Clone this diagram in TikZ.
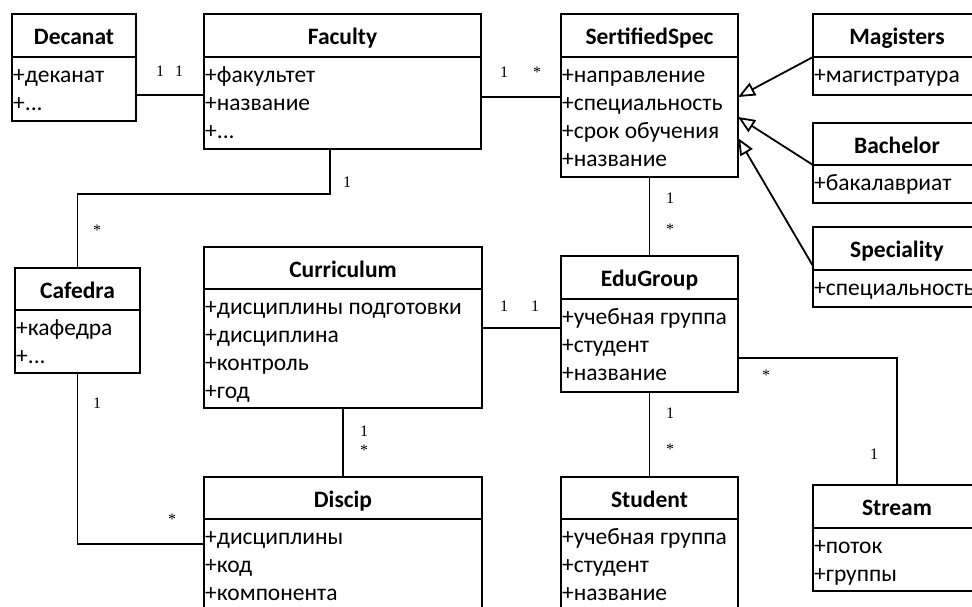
\documentclass[tikz,border=0pt]{standalone}
\usepackage{fontspec}
\setmainfont{Carlito}
\newfontfamily\multfont{Liberation Serif}
\usetikzlibrary{arrows.meta,fit}
\newcommand{\myellip}{...}
\tikzset{
  line/.style={line width=1.8pt, black},
  cls/.style={draw, line width=1.8pt, inner sep=0pt, outer sep=0pt, fill=white},
  ttl/.style={font=\fontsize{23.5}{26}\selectfont\bfseries, inner sep=0pt, anchor=base},
  att/.style={font=\fontsize{23.5}{26}\selectfont, inner sep=0pt, anchor=base west},
  mult/.style={font=\multfont\fontsize{16}{17}\selectfont, inner sep=0pt, anchor=base},
  gen/.style={line width=1.8pt, -{Triangle[open, length=17pt, width=14pt, line width=1.8pt]}, fill=white},
}
% #1 name, #2 x1, #3 y1, #4 x2, #5 y2, #6 separator y, #7 title, #8 attributes
\newcommand{\umlclass}[8]{%
  \node[cls, fit={(#2,#3) (#4,#5)}] (#1) {};
  \draw[line] (#2,#6) -- (#4,#6);
  \node[ttl] (#1-t) at ({(#2+#4)/2}, {#3+30}) {#7};
  \foreach \a [count=\i] in {#8} {
    \node[att] (#1-a\i) at ({#2+1}, {#6+25+28*(\i-1)}) {\a};
  }%
}
\begin{document}
\begin{tikzpicture}[x=1pt, y=-1pt]
\useasboundingbox (0,0) rectangle (972,606);
\clip (0,0) rectangle (972,606);
\fill[white] (0,0) rectangle (972,606);

% classes
\umlclass{dec}{12}{14}{136}{121}{57}{Decanat}{+деканат,+\myellip}
\umlclass{fac}{204}{14}{481}{149}{57}{Faculty}{+факультет,+название,+\myellip}
\umlclass{ss}{561}{14}{738}{177}{57}{SertifiedSpec}{+направление,+специальность,+срок обучения,+название}
\umlclass{mag}{813}{14}{981}{95}{57}{Magisters}{+магистратура}
\umlclass{bac}{813}{123}{981}{203}{165}{Bachelor}{+бакалавриат}
\umlclass{spe}{813}{227}{981}{307}{270}{Speciality}{+специальность}
\umlclass{caf}{15}{268}{140}{373}{310}{Cafedra}{+кафедра,+\myellip}
\umlclass{cur}{204}{247}{482}{408}{289}{Curriculum}{+дисциплины подготовки,+дисциплина,+контроль,+год}
\umlclass{edu}{561}{256}{738}{392}{299}{EduGroup}{+учебная группа,+студент,+название}
\umlclass{disc}{204}{477}{482}{640}{519}{Discip}{+дисциплины,+код,+компонента}
\umlclass{stu}{561}{477}{738}{640}{519}{Student}{+учебная группа,+студент,+название}
\umlclass{str}{813}{485}{981}{591}{528}{Stream}{+поток,+группы}

% associations
\draw[line] (dec.east |- 0,95) -- (fac.west |- 0,95);
\draw[line] (fac.east |- 0,97) -- (ss.west |- 0,97);
\draw[line] (330,0 |- fac.south) |- (caf.north |- 0,194) -- (caf.north);
\draw[line] (caf.south) |- (disc.west |- 0,544);
\draw[line] (cur.south) -- (disc.north);
\draw[line] (cur.east |- 0,328) -- (edu.west |- 0,328);
\draw[line] (ss.south) -- (edu.north);
\draw[line] (edu.south) -- (stu.north);
\draw[line] (edu.east |- 0,358) -| (str.north);

% generalizations
\draw[gen] (mag.west |- 0,57) -- (ss.east |- 0,97);
\draw[gen] (bac.west |- 0,165) -- (ss.east |- 0,117);
\draw[gen] (spe.west |- 0,266) -- (ss.east |- 0,138);

% multiplicities
\node[mult] (m1) at (160,76) {1};
\node[mult] (m2) at (179,76) {1};
\node[mult] (m3) at (504,77) {1};
\node[mult] (m4) at (537,77) {*};
\node[mult] (m5) at (347,187) {1};
\node[mult] (m6) at (97,235) {*};
\node[mult] (m7) at (97,408) {1};
\node[mult] (m8) at (172,524) {*};
\node[mult] (m9) at (364,436) {1};
\node[mult] (m10) at (364,455) {*};
\node[mult] (m11) at (504,311) {1};
\node[mult] (m12) at (535,311) {1};
\node[mult] (m13) at (670,203) {1};
\node[mult] (m14) at (670,234) {*};
\node[mult] (m15) at (670,418) {1};
\node[mult] (m16) at (670,454) {*};
\node[mult] (m17) at (766,380) {*};
\node[mult] (m18) at (874,459) {1};
\end{tikzpicture}
\end{document}
